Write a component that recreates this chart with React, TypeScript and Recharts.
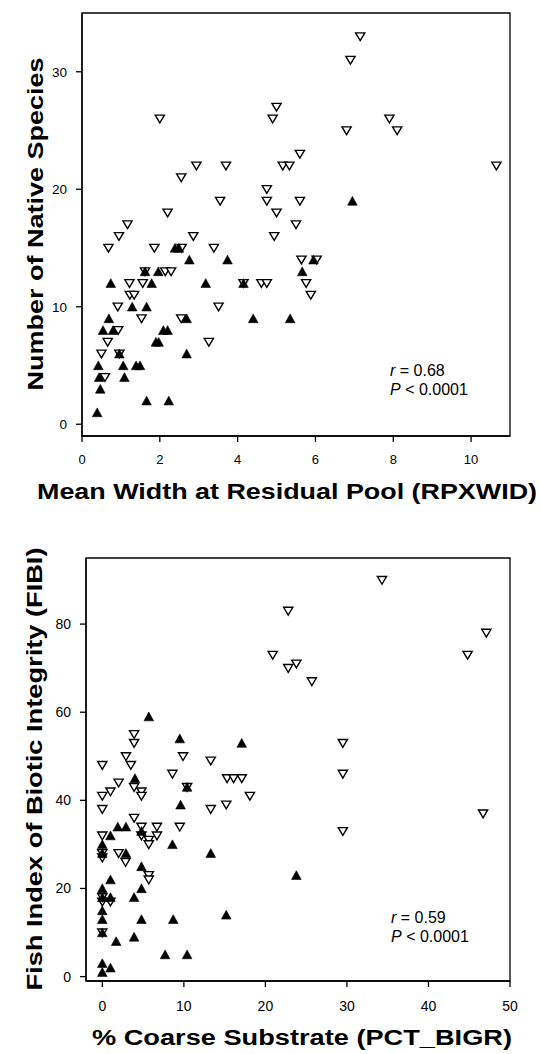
import React from 'react';
import { ScatterChart, Scatter, XAxis, YAxis, ReferenceArea, Customized } from 'recharts';

type Pt = { x: number; y: number };
const toPts = (a: number[][]): Pt[] => a.map(([x, y]) => ({ x, y }));

// Top panel: Mean Width at Residual Pool (RPXWID) vs Number of Native Species
const widthOpen: number[][] = [
  [2.0, 26], [5.0, 27], [4.9, 26], [5.6, 23], [5.16, 22], [5.33, 22], [2.94, 22], [3.7, 22],
  [2.55, 21], [4.75, 20], [4.75, 19], [3.55, 19], [5.6, 19], [2.2, 18], [5.0, 18], [1.17, 17],
  [5.5, 17], [0.95, 16], [2.86, 16], [4.94, 16], [0.68, 15], [1.86, 15], [3.39, 15], [2.56, 15],
  [7.15, 33], [6.9, 31], [7.9, 26], [8.1, 25], [6.8, 25], [10.65, 22], [5.64, 14], [6.03, 14],
  [5.76, 12], [5.88, 11], [2.14, 13], [2.29, 13], [1.22, 12], [1.56, 12], [4.61, 12], [4.75, 12],
  [1.23, 11], [1.34, 11], [0.92, 10], [3.51, 10], [1.53, 9], [2.55, 9], [0.93, 8], [0.66, 7],
  [3.26, 7], [0.5, 6], [0.96, 6], [0.59, 4], [1.62, 13], [4.15, 12],
];
const widthFilled: number[][] = [
  [0.74, 12], [1.62, 13], [1.96, 13], [1.79, 12], [2.76, 14], [3.74, 14], [3.18, 12], [4.15, 12],
  [1.29, 10], [1.66, 10], [0.69, 9], [2.69, 9], [4.4, 9], [5.35, 9], [0.54, 8], [0.8, 8],
  [2.09, 8], [2.2, 8], [1.9, 7], [1.97, 7], [0.96, 6], [2.69, 6], [0.42, 5], [1.06, 5],
  [1.39, 5], [1.49, 5], [0.44, 4], [1.09, 4], [0.47, 3], [1.66, 2], [2.23, 2], [0.39, 1],
  [2.39, 15], [2.49, 15], [6.95, 19], [5.95, 14], [5.66, 13],
];

// Bottom panel: % Coarse Substrate (PCT_BIGR) vs FIBI
const bigrOpen: number[][] = [
  [22.8, 83], [20.9, 73], [22.8, 70], [23.8, 71], [3.9, 55], [3.9, 53], [0, 48], [2.9, 50],
  [3.5, 48], [9.9, 50], [13.3, 49], [8.6, 46], [15.3, 45], [16.1, 45], [17.1, 45], [34.3, 90],
  [47.1, 78], [44.8, 73], [25.7, 67], [29.5, 53], [29.5, 46], [46.7, 37], [29.5, 33], [2.0, 44],
  [1.0, 42], [0, 41], [3.9, 43], [4.8, 42], [4.8, 41], [18.1, 41], [0, 38], [13.3, 38],
  [15.2, 39], [3.9, 36], [4.8, 34], [6.7, 34], [9.5, 34], [0, 32], [4.8, 32], [5.7, 31],
  [6.7, 32], [5.7, 30], [2.0, 28], [0, 27], [2.85, 26], [5.7, 23], [5.7, 22], [0, 17],
  [1.0, 17], [0, 18], [0, 28], [0, 10], [10.4, 43],
];
const bigrFilled: number[][] = [
  [5.7, 59], [9.5, 54], [17.1, 53], [4.0, 45], [23.8, 23], [9.6, 39], [1.9, 34], [2.9, 34],
  [1.0, 32], [0, 30], [8.6, 30], [2.9, 28], [13.3, 28], [4.8, 25], [1.0, 22], [0, 20],
  [4.8, 20], [1.0, 18], [3.9, 18], [0, 15], [0, 13], [4.8, 13], [8.7, 13], [15.2, 14],
  [1.7, 8], [3.9, 9], [7.7, 5], [10.4, 5], [0, 3], [1.0, 2], [0, 1], [0, 18],
  [0, 28], [0, 10], [10.4, 43], [4.8, 33],
];

const topXTicks = [0, 2, 4, 6, 8, 10];
const topYTicks = [0, 10, 20, 30];
const topXDomain = [0, 11];
const topYDomain = [-1, 35];
const botXTicks = [0, 10, 20, 30, 40, 50];
const botYTicks = [0, 20, 40, 60, 80];
const botXDomain = [-2, 50];
const botYDomain = [-1, 95];

const topXTitle = 'Mean Width at Residual Pool (RPXWID)';
const topYTitle = 'Number of Native Species';
const botXTitle = '% Coarse Substrate (PCT_BIGR)';
const botYTitle = 'Fish Index of Biotic Integrity (FIBI)';
const topR = '0.68';
const botR = '0.59';
const pText = '< 0.0001';

const FONT = '"Liberation Sans", Arial, Helvetica, sans-serif';

const DownTri = (props: any) => {
  const { cx, cy } = props;
  if (cx == null || cy == null) return <g />;
  return (
    <polygon
      points={`${cx - 4.6},${cy - 3.6} ${cx + 4.6},${cy - 3.6} ${cx},${cy + 4.2}`}
      fill="#fff"
      stroke="#000"
      strokeWidth={1.4}
    />
  );
};

const UpTri = (props: any) => {
  const { cx, cy } = props;
  if (cx == null || cy == null) return <g />;
  return (
    <polygon
      points={`${cx - 4.8},${cy + 4.2} ${cx + 4.8},${cy + 4.2} ${cx},${cy - 4.6}`}
      fill="#000"
      stroke="#000"
      strokeWidth={0.6}
    />
  );
};

const axisStyle = { stroke: '#000', strokeWidth: 1.3 };

const TopTexts = () => (
  <g fontFamily={FONT} fill="#000">
    <text x={287} y={499} fontSize={22} fontWeight="bold" textAnchor="middle" textLength={500} lengthAdjust="spacingAndGlyphs">
      {topXTitle}
    </text>
    <text x={43} y={224} fontSize={22} fontWeight="bold" textAnchor="middle" transform="rotate(-90, 43, 224)" textLength={333} lengthAdjust="spacingAndGlyphs">
      {topYTitle}
    </text>
    <text x={390} y={376} fontSize={16}>
      <tspan fontStyle="italic">r</tspan> = {topR}
    </text>
    <text x={390} y={395} fontSize={16}>
      <tspan fontStyle="italic">P</tspan> {pText}
    </text>
  </g>
);

const BotTexts = () => (
  <g fontFamily={FONT} fill="#000">
    <text x={302} y={525} fontSize={22} fontWeight="bold" textAnchor="middle" textLength={420} lengthAdjust="spacingAndGlyphs">
      {botXTitle}
    </text>
    <text x={42} y={249} fontSize={22} fontWeight="bold" textAnchor="middle" transform="rotate(-90, 42, 249)" textLength={443} lengthAdjust="spacingAndGlyphs">
      {botYTitle}
    </text>
    <text x={391} y={403} fontSize={16}>
      <tspan fontStyle="italic">r</tspan> = {botR}
    </text>
    <text x={391} y={422} fontSize={16}>
      <tspan fontStyle="italic">P</tspan> {pText}
    </text>
  </g>
);

export default function App() {
  const tickStyle = { fontSize: 13, fill: '#000', fontFamily: FONT };
  return (
    <div style={{ position: 'absolute', left: 0, top: 0, width: 540, height: 1054, background: '#fff' }}>
      <div style={{ position: 'absolute', left: 0, top: 0 }}>
        <ScatterChart width={540} height={520} margin={{ top: 13, right: 30, bottom: 0, left: 0 }}>
          <XAxis
            type="number"
            dataKey="x"
            domain={topXDomain}
            ticks={topXTicks}
            allowDataOverflow
            height={84}
            tickSize={6}
            tickMargin={13}
            axisLine={axisStyle}
            tickLine={axisStyle}
            tick={tickStyle}
          />
          <YAxis
            type="number"
            dataKey="y"
            domain={topYDomain}
            ticks={topYTicks}
            allowDataOverflow
            width={82}
            tickSize={6}
            tickMargin={9}
            axisLine={axisStyle}
            tickLine={axisStyle}
            tick={{ ...tickStyle, fontSize: 13.5 }}
          />
          <ReferenceArea x1={topXDomain[0]} x2={topXDomain[1]} y1={topYDomain[0]} y2={topYDomain[1]} fill="none" fillOpacity={0} stroke="#000" strokeWidth={1.3} />
          <Scatter data={toPts(widthOpen)} shape={DownTri} isAnimationActive={false} />
          <Scatter data={toPts(widthFilled)} shape={UpTri} isAnimationActive={false} />
          <Customized component={TopTexts} />
        </ScatterChart>
      </div>
      <div style={{ position: 'absolute', left: 0, top: 520 }}>
        <ScatterChart width={540} height={534} margin={{ top: 38, right: 30, bottom: 0, left: 0 }}>
          <XAxis
            type="number"
            dataKey="x"
            domain={botXDomain}
            ticks={botXTicks}
            allowDataOverflow
            height={73}
            tickSize={6}
            tickMargin={14}
            axisLine={axisStyle}
            tickLine={axisStyle}
            tick={{ ...tickStyle, fontSize: 14 }}
          />
          <YAxis
            type="number"
            dataKey="y"
            domain={botYDomain}
            ticks={botYTicks}
            allowDataOverflow
            width={86}
            tickSize={6}
            tickMargin={9}
            axisLine={axisStyle}
            tickLine={axisStyle}
            tick={{ ...tickStyle, fontSize: 14 }}
          />
          <ReferenceArea x1={botXDomain[0]} x2={botXDomain[1]} y1={botYDomain[0]} y2={botYDomain[1]} fill="none" fillOpacity={0} stroke="#000" strokeWidth={1.3} />
          <Scatter data={toPts(bigrOpen)} shape={DownTri} isAnimationActive={false} />
          <Scatter data={toPts(bigrFilled)} shape={UpTri} isAnimationActive={false} />
          <Customized component={BotTexts} />
        </ScatterChart>
      </div>
    </div>
  );
}
